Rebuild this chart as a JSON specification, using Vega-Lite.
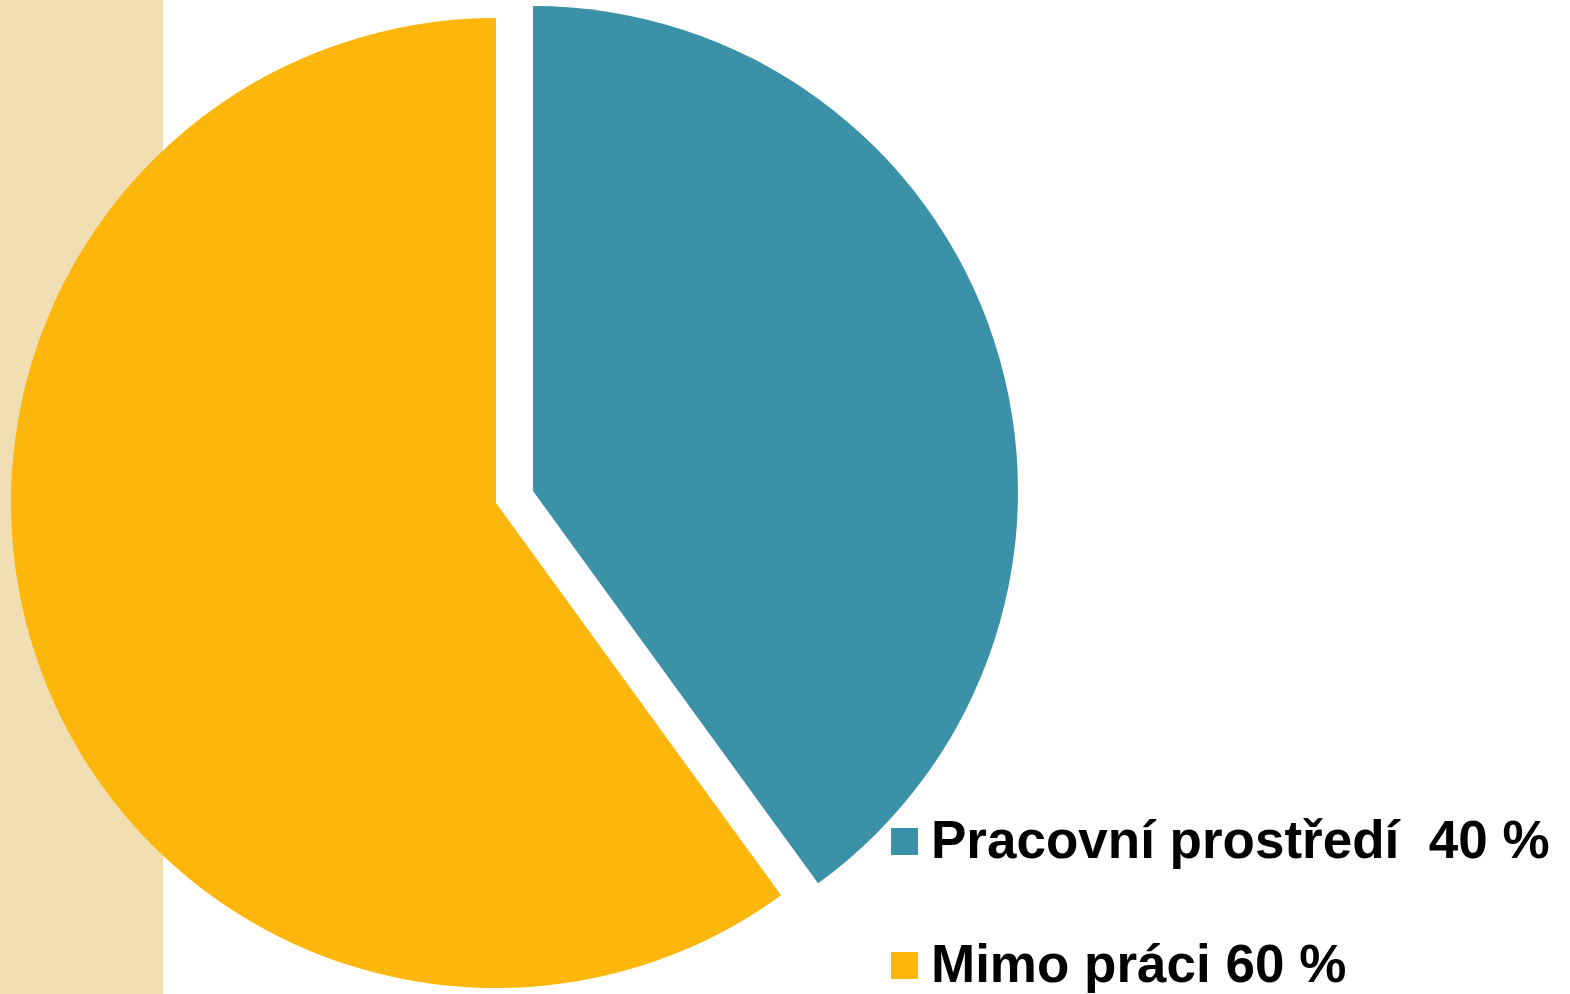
{
  "$schema": "https://vega.github.io/schema/vega-lite/v6.json",
  "width": 992,
  "height": 1006,
  "padding": 0,
  "autosize": {"type": "pad"},
  "background": "white",
  "view": {
    "stroke": null,
    "fill": {
      "gradient": "linear",
      "x1": 0, "y1": 0, "x2": 1, "y2": 0,
      "stops": [
        {"offset": 0, "color": "#F1DEB2"},
        {"offset": 0.1643, "color": "#F1DEB2"},
        {"offset": 0.1644, "color": "#FFFFFF"},
        {"offset": 1, "color": "#FFFFFF"}
      ]
    }
  },
  "data": {
    "values": [
      {"kategorie": "Pracovní prostředí  40 %", "podil": 40},
      {"kategorie": "Mimo práci 60 %", "podil": 60}
    ]
  },
  "transform": [
    {"stack": "podil", "groupby": [], "sort": [{"field": "kategorie", "order": "descending"}], "as": ["od", "do"]}
  ],
  "encoding": {
    "theta": {"field": "od", "type": "quantitative", "scale": {"domain": [0, 100]}},
    "theta2": {"field": "do"},
    "color": {
      "field": "kategorie",
      "type": "nominal",
      "scale": {"domain": ["Pracovní prostředí  40 %", "Mimo práci 60 %"], "range": ["#3B91A7", "#FDB70C"]},
      "legend": {
        "title": null,
        "orient": "none",
        "legendX": 878,
        "legendY": 815,
        "symbolType": "square",
        "symbolSize": 729,
        "symbolStrokeWidth": 0,
        "labelFont": "Liberation Sans Narrow, Arial Narrow, Liberation Sans, Arial",
        "labelFontSize": 53,
        "labelFontWeight": "bold",
        "labelColor": "#000000",
        "labelOffset": 0,
        "labelLimit": 0,
        "labelExpr": "replace(datum.label, '  ', '\u00a0 ')",
        "rowPadding": 70,
        "padding": 0
      }
    }
  },
  "layer": [
    {
      "transform": [{"filter": "datum.kategorie == 'Mimo práci 60 %'"}],
      "mark": {"type": "arc", "outerRadius": 485}
    },
    {
      "transform": [{"filter": "datum.kategorie == 'Pracovní prostředí  40 %'"}],
      "mark": {"type": "arc", "outerRadius": 485, "xOffset": 37, "yOffset": -12}
    }
  ]
}
